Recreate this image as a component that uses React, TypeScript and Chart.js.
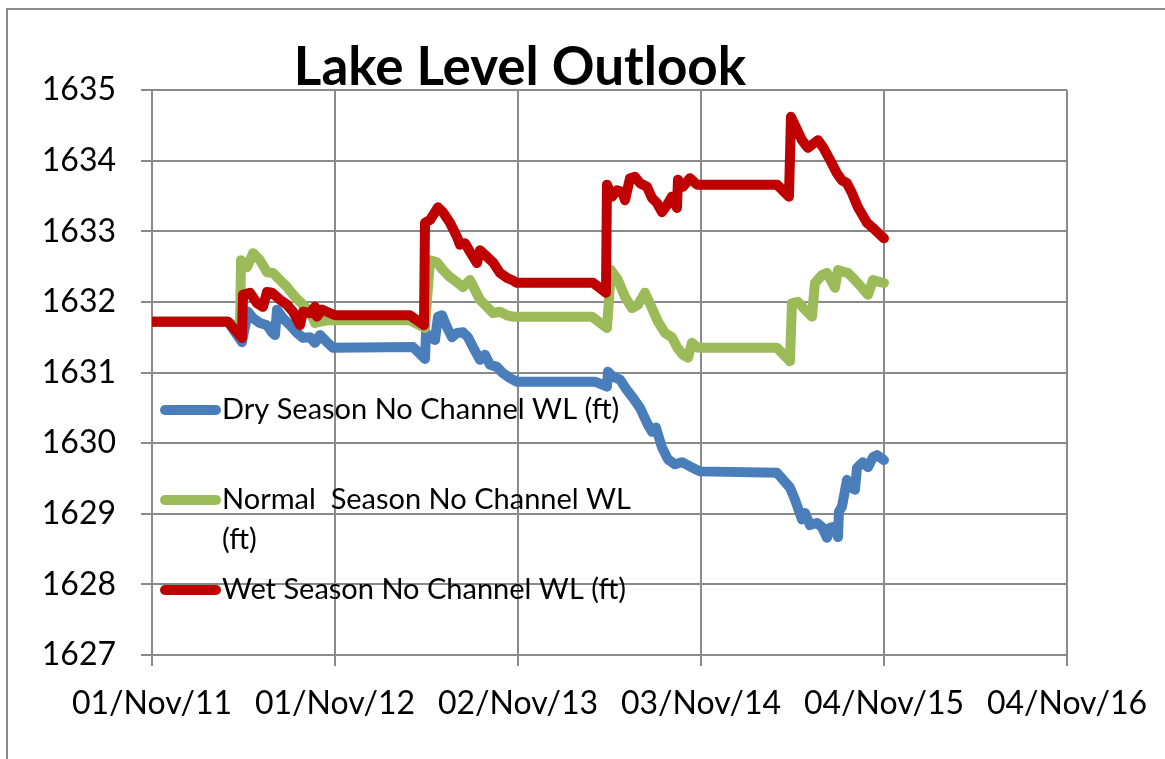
import React, { useEffect, useRef } from 'react';
import { Chart, registerables } from 'chart.js';

Chart.register(...registerables);

// ---- Data ----
const START_DATE_UTC = Date.UTC(2011, 10, 1); // 01/Nov/11 = day 0
const MONTHS = ['Jan', 'Feb', 'Mar', 'Apr', 'May', 'Jun', 'Jul', 'Aug', 'Sep', 'Oct', 'Nov', 'Dec'];
const X_MIN_DAYS = 0;
const X_MAX_DAYS = 1830;
const X_STEP_DAYS = 366;
const Y_MIN = 1627;
const Y_MAX = 1635;
const Y_STEP = 1;

const chartTitle = 'Lake Level Outlook';
const seriesLabels = [
  'Dry Season No Channel WL (ft)',
  'Normal  Season No Channel WL (ft)',
  'Wet Season No Channel WL (ft)',
];
const seriesColors = ['#4A7EBB', '#9BBB59', '#C00000'];

const dryDays = [0, 152, 180, 192, 202, 216, 230, 240, 246, 250, 262, 276, 290, 302, 316, 326, 336, 350, 362, 522, 546, 548, 556, 566, 572, 580, 590, 600, 610, 622, 632, 642, 656, 666, 676, 690, 702, 716, 730, 886, 910, 912, 922, 936, 950, 962, 976, 992, 1000, 1008, 1020, 1032, 1046, 1060, 1076, 1096, 1250, 1276, 1286, 1300, 1306, 1316, 1330, 1340, 1350, 1356, 1366, 1372, 1374, 1380, 1390, 1396, 1406, 1410, 1422, 1432, 1442, 1450, 1464];
const dryLevels = [1631.72, 1631.72, 1631.43, 1631.86, 1631.77, 1631.70, 1631.67, 1631.57, 1631.53, 1631.89, 1631.77, 1631.67, 1631.56, 1631.49, 1631.50, 1631.42, 1631.53, 1631.43, 1631.35, 1631.36, 1631.19, 1631.56, 1631.50, 1631.46, 1631.79, 1631.81, 1631.64, 1631.50, 1631.56, 1631.57, 1631.50, 1631.36, 1631.18, 1631.25, 1631.11, 1631.08, 1630.99, 1630.92, 1630.87, 1630.87, 1630.80, 1631.01, 1630.94, 1630.90, 1630.75, 1630.64, 1630.50, 1630.26, 1630.16, 1630.22, 1629.94, 1629.77, 1629.70, 1629.73, 1629.67, 1629.60, 1629.58, 1629.37, 1629.20, 1628.92, 1629.01, 1628.84, 1628.87, 1628.81, 1628.66, 1628.80, 1628.82, 1628.67, 1629.03, 1629.10, 1629.48, 1629.38, 1629.34, 1629.65, 1629.73, 1629.66, 1629.80, 1629.83, 1629.76];

const normalDays = [0, 152, 176, 178, 190, 202, 216, 230, 242, 256, 270, 286, 302, 316, 326, 336, 350, 516, 546, 556, 570, 582, 596, 610, 622, 636, 646, 656, 670, 682, 696, 710, 722, 880, 910, 918, 932, 946, 960, 972, 986, 1000, 1012, 1026, 1040, 1050, 1062, 1072, 1080, 1092, 1250, 1276, 1280, 1292, 1306, 1320, 1326, 1340, 1350, 1366, 1372, 1386, 1392, 1406, 1420, 1432, 1442, 1456, 1464];
const normalLevels = [1631.72, 1631.72, 1631.60, 1632.59, 1632.49, 1632.69, 1632.59, 1632.42, 1632.41, 1632.31, 1632.21, 1632.07, 1631.96, 1631.86, 1631.70, 1631.72, 1631.74, 1631.74, 1631.63, 1632.59, 1632.56, 1632.45, 1632.35, 1632.28, 1632.21, 1632.31, 1632.17, 1632.03, 1631.93, 1631.84, 1631.86, 1631.81, 1631.79, 1631.79, 1631.63, 1632.45, 1632.31, 1632.07, 1631.91, 1631.96, 1632.13, 1631.91, 1631.72, 1631.56, 1631.50, 1631.36, 1631.25, 1631.21, 1631.42, 1631.35, 1631.35, 1631.16, 1631.98, 1632.00, 1631.89, 1631.79, 1632.27, 1632.38, 1632.41, 1632.20, 1632.45, 1632.42, 1632.41, 1632.31, 1632.20, 1632.10, 1632.31, 1632.28, 1632.27];

const wetDays = [0, 152, 180, 182, 196, 210, 222, 230, 240, 256, 270, 282, 296, 302, 316, 326, 330, 340, 350, 366, 516, 544, 546, 556, 566, 572, 582, 596, 610, 616, 626, 636, 650, 656, 670, 682, 696, 710, 720, 730, 882, 908, 910, 920, 930, 940, 946, 956, 966, 976, 990, 1000, 1010, 1020, 1030, 1040, 1050, 1052, 1062, 1076, 1090, 1250, 1274, 1278, 1300, 1312, 1332, 1342, 1356, 1370, 1380, 1390, 1400, 1412, 1430, 1446, 1464];
const wetLevels = [1631.72, 1631.72, 1631.49, 1632.10, 1632.13, 1631.98, 1631.93, 1632.14, 1632.13, 1632.03, 1631.96, 1631.86, 1631.67, 1631.86, 1631.84, 1631.93, 1631.79, 1631.89, 1631.86, 1631.81, 1631.81, 1631.67, 1633.12, 1633.16, 1633.27, 1633.34, 1633.27, 1633.12, 1632.92, 1632.81, 1632.83, 1632.71, 1632.55, 1632.73, 1632.64, 1632.56, 1632.41, 1632.34, 1632.31, 1632.27, 1632.27, 1632.13, 1633.66, 1633.49, 1633.58, 1633.56, 1633.44, 1633.75, 1633.77, 1633.68, 1633.63, 1633.47, 1633.40, 1633.27, 1633.37, 1633.49, 1633.33, 1633.73, 1633.63, 1633.75, 1633.66, 1633.66, 1633.49, 1634.62, 1634.29, 1634.18, 1634.29, 1634.19, 1634.01, 1633.82, 1633.72, 1633.68, 1633.54, 1633.34, 1633.12, 1633.02, 1632.90];

// ---- Styles ----
const FONT_FAMILY = 'Lato, "Noto Sans", sans-serif';
const GRID_COLOR = '#8A8A8A';
const LINE_WIDTH = 10;
const W = 1165;
const H = 759;

function formatDay(day: number): string {
  const dt = new Date(START_DATE_UTC + day * 86400000);
  const dd = String(dt.getUTCDate()).padStart(2, '0');
  const mon = MONTHS[dt.getUTCMonth()];
  const yy = String(dt.getUTCFullYear() % 100).padStart(2, '0');
  return `${dd}/${mon}/${yy}`;
}

function toPoints(days: number[], levels: number[]) {
  return days.map((d, i) => ({ x: d, y: levels[i] }));
}

function wrapText(ctx: CanvasRenderingContext2D, text: string, maxWidth: number): string[] {
  const words = text.split(' ');
  const lines: string[] = [];
  let cur = '';
  for (let i = 0; i < words.length; i++) {
    const test = i === 0 ? words[i] : cur + ' ' + words[i];
    if (ctx.measureText(test).width > maxWidth && cur.trim() !== '') {
      lines.push(cur);
      cur = words[i];
    } else {
      cur = test;
    }
  }
  if (cur !== '') lines.push(cur);
  return lines;
}

const framePlugin = {
  id: 'frame',
  beforeDraw(chart: any) {
    const ctx = chart.ctx;
    ctx.save();
    ctx.fillStyle = '#FFFFFF';
    ctx.fillRect(0, 0, chart.width, chart.height);
    ctx.strokeStyle = GRID_COLOR;
    ctx.lineWidth = 2;
    ctx.beginPath();
    ctx.moveTo(chart.width, 9);
    ctx.lineTo(7, 9);
    ctx.lineTo(7, chart.height);
    ctx.stroke();
    ctx.restore();
  },
};

const titlePlugin = {
  id: 'customTitle',
  afterDraw(chart: any) {
    const ctx = chart.ctx;
    ctx.save();
    ctx.font = `bold 53px ${FONT_FAMILY}`;
    ctx.fillStyle = '#000000';
    ctx.textAlign = 'center';
    ctx.textBaseline = 'alphabetic';
    ctx.fillText(chartTitle, 520, 85);
    ctx.restore();
  },
};

const LEGEND_ROWS_Y = [410, 500, 590];
const legendPlugin = {
  id: 'insideLegend',
  afterDraw(chart: any) {
    const ctx = chart.ctx;
    ctx.save();
    ctx.font = `29px ${FONT_FAMILY}`;
    ctx.textAlign = 'left';
    ctx.textBaseline = 'middle';
    chart.data.datasets.forEach((ds: any, i: number) => {
      const y = LEGEND_ROWS_Y[i];
      ctx.strokeStyle = ds.borderColor;
      ctx.lineWidth = LINE_WIDTH;
      ctx.lineCap = 'round';
      ctx.beginPath();
      ctx.moveTo(165, y);
      ctx.lineTo(216, y);
      ctx.stroke();
      ctx.fillStyle = '#000000';
      const lines = wrapText(ctx, ds.label, 440);
      lines.forEach((ln, j) => ctx.fillText(ln, 222, y + j * 40));
    });
    ctx.restore();
  },
};

export default function App() {
  const canvasRef = useRef<HTMLCanvasElement | null>(null);

  useEffect(() => {
    if (!canvasRef.current) return;
    const seriesData = [
      toPoints(dryDays, dryLevels),
      toPoints(normalDays, normalLevels),
      toPoints(wetDays, wetLevels),
    ];
    const chart = new Chart(canvasRef.current, {
      type: 'line',
      data: {
        datasets: seriesData.map((pts, i) => ({
          label: seriesLabels[i],
          data: pts,
          borderColor: seriesColors[i],
          backgroundColor: seriesColors[i],
          borderWidth: LINE_WIDTH,
          borderJoinStyle: 'round' as const,
          borderCapStyle: 'round' as const,
          pointRadius: 0,
          pointHoverRadius: 0,
          tension: 0,
          fill: false,
          clip: 0,
          order: 3 - i,
        })),
      },
      options: {
        responsive: false,
        animation: false,
        devicePixelRatio: 1,
        layout: { padding: { left: 0, top: 90, right: 97, bottom: 0 } },
        plugins: {
          legend: { display: false },
          title: { display: false },
          tooltip: { enabled: false },
        },
        scales: {
          x: {
            type: 'linear',
            min: X_MIN_DAYS,
            max: X_MAX_DAYS,
            afterBuildTicks(scale: any) {
              const t = [];
              for (let v = X_MIN_DAYS; v <= X_MAX_DAYS; v += X_STEP_DAYS) t.push({ value: v });
              scale.ticks = t;
            },
            afterFit(scale: any) {
              scale.height = H - 655;
            },
            grid: {
              color: GRID_COLOR,
              lineWidth: 2,
              drawTicks: true,
              tickLength: 11,
              tickColor: GRID_COLOR,
            },
            border: { color: GRID_COLOR, width: 2 },
            ticks: {
              autoSkip: false,
              maxRotation: 0,
              minRotation: 0,
              padding: 18,
              color: '#000000',
              font: { family: FONT_FAMILY, size: 32 },
              callback: (v: any) => formatDay(Number(v)),
            },
          },
          y: {
            type: 'linear',
            min: Y_MIN,
            max: Y_MAX,
            afterFit(scale: any) {
              scale.width = 152;
            },
            grid: {
              color: GRID_COLOR,
              lineWidth: 2,
              drawTicks: true,
              tickLength: 11,
              tickColor: GRID_COLOR,
            },
            border: { color: GRID_COLOR, width: 2 },
            ticks: {
              stepSize: Y_STEP,
              padding: 25,
              color: '#000000',
              font: { family: FONT_FAMILY, size: 32 },
              callback: (v: any) => String(v),
            },
          },
        },
      },
      plugins: [framePlugin, titlePlugin, legendPlugin],
    });
    return () => chart.destroy();
  }, []);

  return (
    <div style={{ position: 'absolute', left: 0, top: 0, width: W, height: H, overflow: 'hidden' }}>
      <canvas ref={canvasRef} width={W} height={H} style={{ width: W, height: H, display: 'block' }} />
    </div>
  );
}
